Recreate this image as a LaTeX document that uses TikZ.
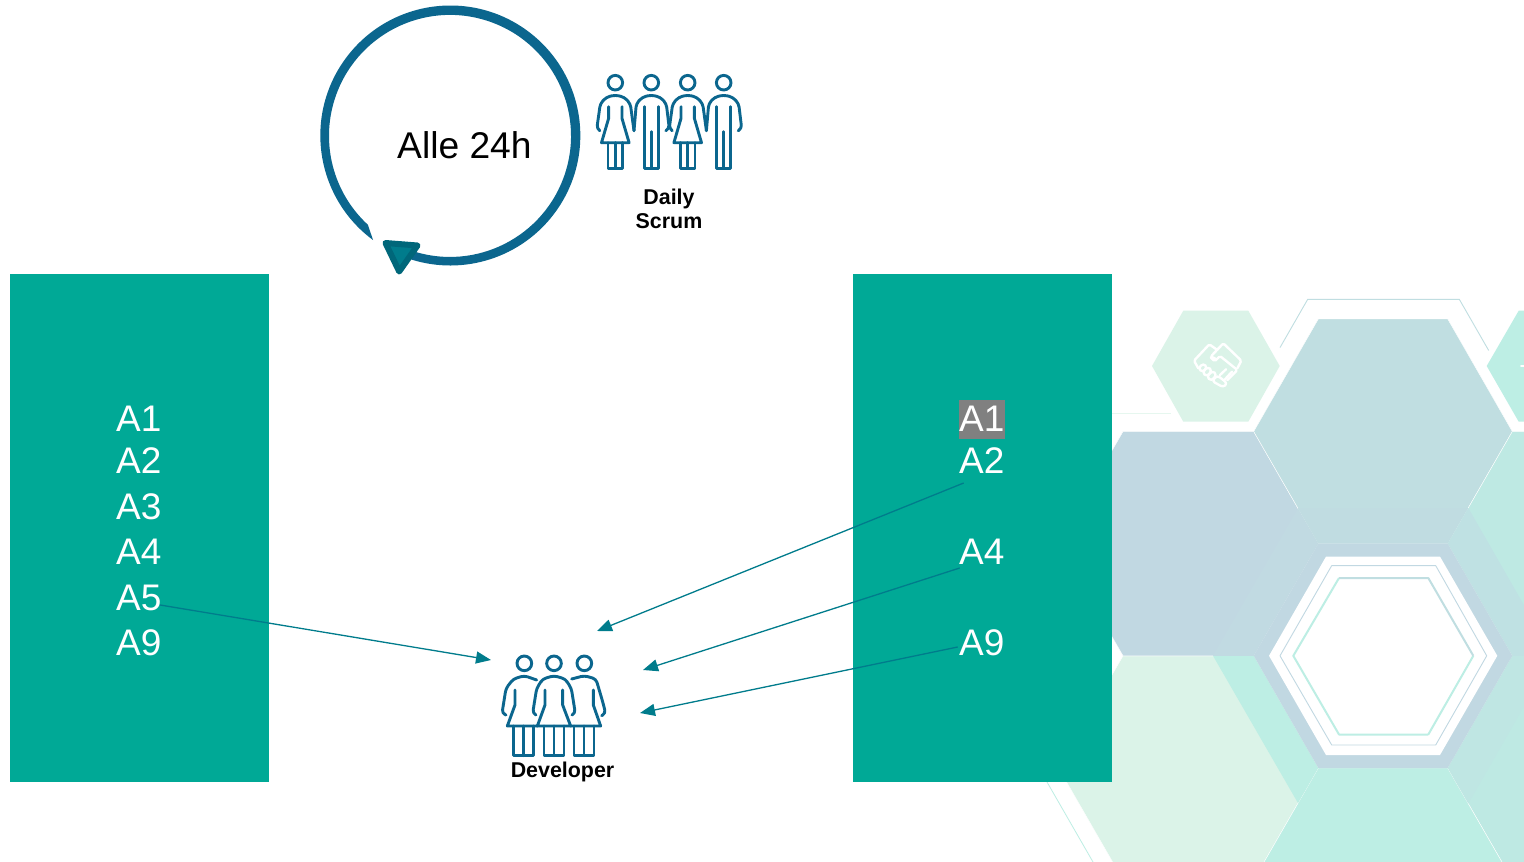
\documentclass[tikz,border=0pt]{standalone}
\usepackage{fontspec}
\setmainfont{Liberation Sans}
\usetikzlibrary{calc,arrows.meta}
\definecolor{panelgreen}{HTML}{00A996}
\definecolor{iconblue}{HTML}{0B668E}
\definecolor{arrowteal}{HTML}{007C8C}
\definecolor{arrowedge}{HTML}{00677A}
\definecolor{hexmint}{HTML}{DBF3E8}
\definecolor{hexaqua}{HTML}{BDEEE4}
\definecolor{hexteal}{HTML}{C0DEE1}
\definecolor{hexblue}{HTML}{C1D8E2}
\definecolor{hexaquab}{HTML}{BEE9E3}
\tikzset{
  panel/.style={fill=panelgreen,draw=none},
  itemtext/.style={text=white,anchor=base west,inner sep=0pt,font=\fontsize{37}{37}\selectfont},
  boldlabel/.style={text=black,inner sep=0pt,align=center,font=\fontsize{21.4}{24}\selectfont\bfseries},
  link/.style={draw=arrowteal,line width=1.3pt,-{Triangle[length=15pt,width=12pt]}},
  iconline/.style={draw=iconblue,line width=2.9pt,line join=round,line cap=round,fill=none},
  hexedge/.style={draw=white,line width=0.4pt},
  thinhex/.style={line width=0.9pt,line join=round},
  womanicon/.pic={
    \draw[iconline] (0,0) circle (7.3);
    \draw[iconline,rounded corners=3.5pt] (-15.5,48) -- (-18.5,46) -- (-15,21) -- (-9,14.5) -- (0,12.3) -- (9,14.5) -- (15,21) -- (18.7,48);
    \draw[iconline] (-6.7,24) -- (-6.7,35.7) -- (-13.8,60) -- (13.8,60) -- (6.7,35.7) -- (6.7,24);
    \draw[iconline] (-7.3,60) -- (-7.3,85.7) -- (7.3,85.7) -- (7.3,60) (0,60) -- (0,85.7);
  },
  manicon/.pic={
    \draw[iconline] (0,0) circle (7.3);
    \draw[iconline,rounded corners=3.5pt] (-17.3,48) -- (-15,21) -- (-9,14.5) -- (0,12.3) -- (9,14.5) -- (15,21) -- (18,46) -- (14.5,48);
    \draw[iconline] (-7,24) -- (-7,85.7) -- (7,85.7) -- (7,24) (0,49) -- (0,85.7);
  },
}
\begin{document}
\begin{tikzpicture}[x=1pt,y=-1pt]
\useasboundingbox (0,0) rectangle (1524,862);
\clip (0,0) rectangle (1524,862);
\fill[white] (0,0) rectangle (1524,862);

% background hexagons
\fill[hexmint,hexedge] (1058.5,768) -- (1123,655.8) -- (1253.7,655.8) -- (1318.3,768) -- (1253.7,880) -- (1123,880) -- cycle;
\fill[hexblue,hexedge] (1058.5,543.6) -- (1123,431.5) -- (1253.7,431.5) -- (1318.3,543.6) -- (1253.7,655.8) -- (1123,655.8) -- cycle;
\fill[hexteal,hexedge] (1253.7,431.5) -- (1318.3,319) -- (1447.7,319) -- (1512.3,431.5) -- (1447.7,543.6) -- (1318.3,543.6) -- cycle;
\fill[hexaquab,hexedge] (1447.7,543.6) -- (1512.3,431.5) -- (1641.7,431.5) -- (1706,543.6) -- (1641.7,655.8) -- (1512.3,655.8) -- cycle;
\fill[hexaquab,hexedge] (1447.7,768) -- (1512.3,655.8) -- (1641.7,655.8) -- (1706,768) -- (1641.7,880) -- (1512.3,880) -- cycle;
\fill[hexaqua,hexedge] (1253.7,880) -- (1318.3,768) -- (1447.7,768) -- (1512.3,880) -- (1447.7,992) -- (1318.3,992) -- cycle;
% large overlay hexagon: each hexagon shows a shifted tint inside it
\begin{scope}
  \clip (1213,655.8) -- (1298.3,508) -- (1468.3,508) -- (1553,655.8) -- (1468.3,803.6) -- (1298.3,803.6) -- cycle;
  \fill[hexaqua] (1058.5,768) -- (1123,655.8) -- (1253.7,655.8) -- (1318.3,768) -- (1253.7,880) -- (1123,880) -- cycle;
  \fill[color=hexblue!70!hexteal] (1058.5,543.6) -- (1123,431.5) -- (1253.7,431.5) -- (1318.3,543.6) -- (1253.7,655.8) -- (1123,655.8) -- cycle;
  \fill[color=hexblue!35!hexteal] (1253.7,431.5) -- (1318.3,319) -- (1447.7,319) -- (1512.3,431.5) -- (1447.7,543.6) -- (1318.3,543.6) -- cycle;
  \fill[color=hexblue!45!hexaquab] (1447.7,543.6) -- (1512.3,431.5) -- (1641.7,431.5) -- (1706,543.6) -- (1641.7,655.8) -- (1512.3,655.8) -- cycle;
  \fill[color=hexblue!20!hexaquab] (1447.7,768) -- (1512.3,655.8) -- (1641.7,655.8) -- (1706,768) -- (1641.7,880) -- (1512.3,880) -- cycle;
\end{scope}
% centre hexagon
\fill[hexblue] (1253.7,655.8) -- (1318.3,543.6) -- (1447.7,543.6) -- (1512.3,655.8) -- (1447.7,768) -- (1318.3,768) -- cycle;
\fill[white] (1269,655.8) -- (1326,556.6) -- (1440,556.6) -- (1497.3,655.8) -- (1440,755) -- (1326,755) -- cycle;
\draw[hexblue,thinhex] (1280,655.8) -- (1331.7,565.6) -- (1435.7,565.6) -- (1486.7,655.8) -- (1435.7,745) -- (1331.7,745) -- cycle;
\draw[hexaqua,line width=2pt,line join=round] (1428.3,734.5) -- (1473.3,655.8) (1428.3,734.5) -- (1339,734.5) -- (1293.3,655.8) -- (1339,578);
\draw[hexteal,line width=2pt,line join=round] (1339,578) -- (1428.3,578) -- (1473.3,655.8);
% small hexagons
\fill[hexmint] (1152,366) -- (1183.3,310.7) -- (1248.3,310.7) -- (1279.7,366) -- (1248.3,421.7) -- (1183.3,421.7) -- cycle;
\fill[hexaqua] (1486.7,366) -- (1518.7,310.7) -- (1583.7,310.7) -- (1615,366) -- (1583.7,421.7) -- (1518.7,421.7) -- cycle;
\draw[white,line width=1.6pt,line cap=round] (1521,366) -- (1526,366);
% thin outlines
\draw[color=hexteal,line width=0.9pt] (1280,347.6) -- (1307.7,299.3) -- (1459.3,299.3) -- (1488.7,350.5);
\draw[color=hexmint!70!white,line width=0.9pt] (1112,413) -- (1170.7,413);
\draw[color=hexaqua,line width=0.8pt] (1047,782) -- (1093,862);
% handshake
\begin{scope}[shift={(1140,300)},x=0.3333pt,y=-0.3333pt,white,line width=2.4pt,line join=round,line cap=round]
  \draw[rounded corners=1.5pt] (175,205) -- (162,182) -- (208,133) -- (232,150);
  \draw[rounded corners=1.5pt] (225,175) -- (212,170) -- (250,130) -- (304,182) -- (292,205);
  \draw[rounded corners=1.5pt] (212,172) -- (224,184) -- (240,168) -- (292,210) -- (262,240);
  \draw[rounded corners=3pt] (175,205) -- (190,190) -- (202,202) -- (187,217) -- cycle;
  \draw[rounded corners=3pt] (187,217) -- (204,200) -- (216,212) -- (200,230) -- cycle;
  \draw[rounded corners=3pt] (200,230) -- (218,212) -- (230,224) -- (214,243) -- cycle;
  \draw[rounded corners=3pt] (216,243) -- (232,226) -- (262,250) -- (250,262) -- cycle;
  \draw (240,225) -- (258,208) (255,238) -- (276,215);
\end{scope}

% panels
\node[panel,minimum width=259pt,minimum height=508pt,inner sep=0pt] (leftpanel) at (139.5,528) {};
\node[panel,minimum width=259pt,minimum height=508pt,inner sep=0pt] (rightpanel) at (982.5,528) {};
\fill[gray] (959,400) rectangle (1005,439);

% items
\node[itemtext] (la1) at (116,431.5) {A1};
\node[itemtext] (la2) at (116,473.5) {A2};
\node[itemtext] (la3) at (116,519.5) {A3};
\node[itemtext] (la4) at (116,564.5) {A4};
\node[itemtext] (la5) at (116,610.5) {A5};
\node[itemtext] (la9) at (116,655.5) {A9};
\node[itemtext] (ra1) at (959,431.5) {A1};
\node[itemtext] (ra2) at (959,473.5) {A2};
\node[itemtext] (ra4) at (959,564.5) {A4};
\node[itemtext] (ra9) at (959,655.5) {A9};

% cycle
\fill[iconblue] (373,240) arc[start angle=126.5,end angle=468,radius=130] -- (412.6,251) arc[start angle=468,end angle=132.7,radius=121] -- cycle;
\draw[line width=6pt,line join=round,draw=arrowedge,fill=arrowteal] (385.5,243) -- (417.5,245.5) -- (399.2,271.5) -- cycle;
\node[anchor=base west,inner sep=0pt,font=\fontsize{37.2}{37.2}\selectfont] (cycletext) at (397,158.5) {Alle 24h};

% people
\pic at (615.3,82.7) {womanicon};
\pic at (651.3,82.7) {manicon};
\pic at (687.7,82.7) {womanicon};
\pic at (723.7,82.7) {manicon};
\node[boldlabel] (daily) at (669,209) {Daily\\Scrum};

\begin{scope}[shift={(490,645)},x=0.3333pt,y=-0.3333pt]
  \foreach \hx in {103,192,283} \draw[iconline] (\hx,55) circle (22);
  % left
  \draw[iconline,rounded corners=3.5pt] (48,210) -- (36,205) -- (48,130) -- (70,102) -- (103,92) -- (140,105);
  \draw[iconline] (75,135) -- (75,180) -- (52,243) -- (142,243);
  \draw[iconline] (70,243) -- (70,332) -- (130,332) -- (130,243) (100,243) -- (100,332);
  % right
  \draw[iconline,rounded corners=3.5pt] (245,102) -- (283,92) -- (318,102) -- (338,170) -- (347,205) -- (335,212);
  \draw[iconline] (310,135) -- (310,180) -- (332,243) -- (242,243);
  \draw[iconline] (252,243) -- (252,332) -- (312,332) -- (312,243) (282,243) -- (282,332);
  % middle
  \draw[iconline,rounded corners=3.5pt] (138,210) -- (128,205) -- (140,130) -- (158,102) -- (192,92) -- (226,102) -- (244,130) -- (256,205) -- (246,210);
  \draw[iconline] (165,135) -- (165,180) -- (142,243) -- (242,243) -- (218,180) -- (218,135);
  \draw[iconline] (162,243) -- (162,332) -- (222,332) -- (222,243) (192,243) -- (192,332);
\end{scope}
\node[boldlabel,anchor=base] (developer) at (562.5,777) {Developer};

% arrows
\coordinate (d1) at (491,660);
\coordinate (d2) at (597,631);
\coordinate (d3) at (643,670);
\coordinate (d4) at (640,713);
\draw[link] ($(la5.base east)+(-1.5,-5.5)$) -- (d1);
\draw[link] ($(ra2.base east)+(-41,9.5)$) -- (d2);
\draw[link] ($(ra4.base east)+(-45,3.5)$) -- (d3);
\draw[link] ($(ra9.base east)+(-47,-8.5)$) -- (d4);
\end{tikzpicture}
\end{document}
